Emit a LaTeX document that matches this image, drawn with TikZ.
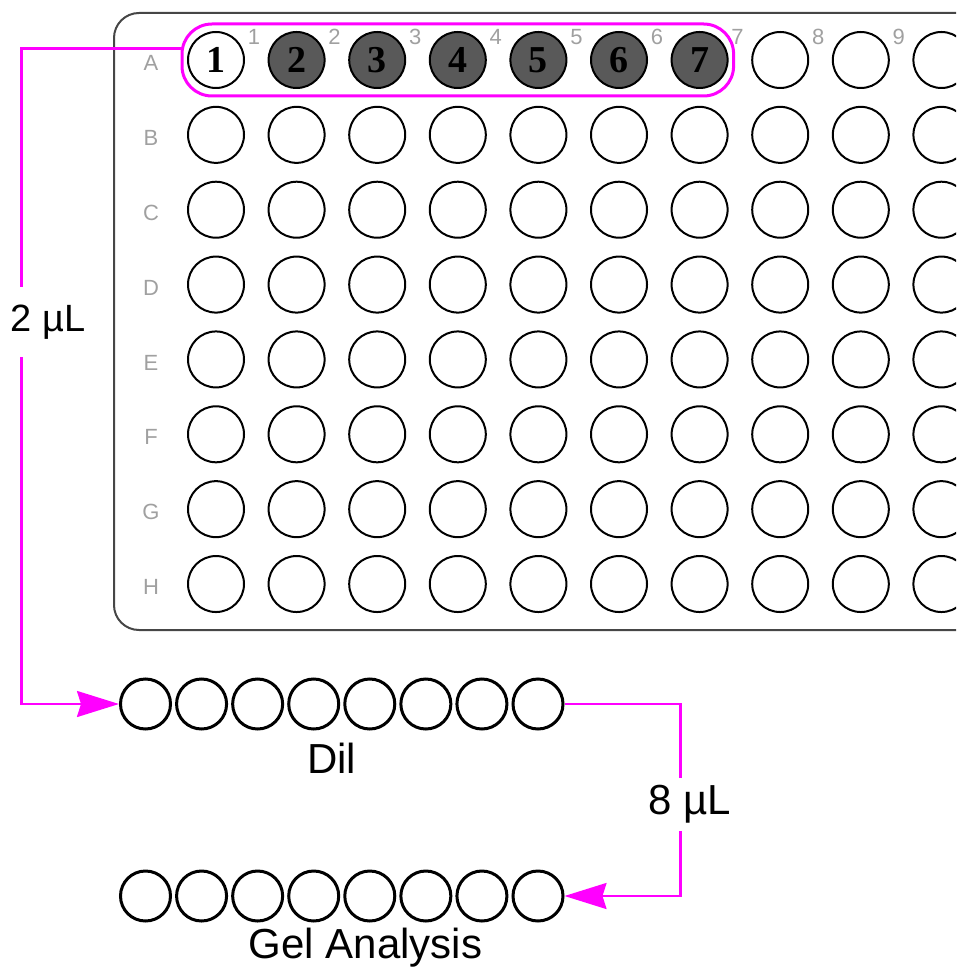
\documentclass[tikz,border=0pt]{standalone}
\usepackage{fontspec}
\setmainfont{Liberation Sans}
\newfontfamily\wellfont{Liberation Serif}
\usetikzlibrary{arrows.meta,fit}

\definecolor{pipette}{RGB}{255,0,255}
\definecolor{sample}{RGB}{89,89,89}
\definecolor{lblgrey}{RGB}{160,160,160}
\definecolor{plateedge}{RGB}{70,70,70}

\begin{document}
\begin{tikzpicture}[x=0.5pt, y=-0.5pt,
  well/.style ={circle, draw, line width=1pt, minimum size=28pt, inner sep=0pt},
  tube/.style ={circle, draw, line width=1.5pt, minimum size=25pt, inner sep=0pt},
  platelbl/.style ={text=lblgrey, font=\fontsize{11}{11}\selectfont},
  wellnum/.style ={font=\wellfont\bfseries\fontsize{19}{19}\selectfont},
  pickbox/.style ={draw=pipette, line width=1.5pt, rounded corners=15pt, inner xsep=2.5pt, inner ysep=3.5pt},
  xfer/.style ={draw=pipette, line width=1.1pt, -{Stealth[length=21pt, width=13pt, inset=2pt]}},
  vol/.style ={fill=white, inner xsep=1pt},
  caption/.style ={font=\fontsize{21}{21}\selectfont}]
 \useasboundingbox (0,0) rectangle (959,967);

 % plate
 \begin{scope}
  \clip (0,0) rectangle (956,967);
  \draw[plateedge, line width=1pt, rounded corners=12.5pt] (114,13) rectangle (1010,630);
  \foreach \c/\f in {1/white,2/sample,3/sample,4/sample,5/sample,6/sample,7/sample}
   \node[well, fill=\f, wellnum] (A\c) at ({216+80.6*(\c-1)},60) {\c};
  \foreach \c in {8,9,10}
   \node[well] (A\c) at ({216+80.6*(\c-1)},60) {};
  \foreach \r [count=\ri from 2] in {B,...,H}
   \foreach \c in {1,...,10}
    \node[well] (\r\c) at ({216+80.6*(\c-1)},{60+74.86*(\ri-1)}) {};
  \foreach \r [count=\ri] in {A,...,H}
   \node[platelbl] (lbl\r) at (151,{63+74.86*(\ri-1)}) {\r};
  \foreach \c in {1,...,9}
   \node[platelbl] (num\c) at ({254+80.6*(\c-1)},37) {\c};
 \end{scope}

 \node[pickbox, fit=(A1)(A7)] (pick) {};

 % strips
 \foreach \i in {1,...,8} {
  \node[tube] (dil\i) at ({145.5+56.07*(\i-1)},704) {};
  \node[tube] (gel\i) at ({145.5+56.07*(\i-1)},896) {};
 }
 \node[caption] (dilcap) at (331.5,758) {Dil};
 \node[caption] (gelcap) at (365.5,948) {Gel Analysis};

 \draw[xfer] ([yshift=5.75pt]pick.west) -- ++(-159,0) |- (dil1.west);
 \draw[xfer] (dil8.east) -- ++(116,0) |- (gel8.east);
 \node[vol, minimum height=35pt, font=\fontsize{19}{19}\selectfont] (vol2) at (48,322) {2 µL};
 \node[vol, minimum height=26.5pt, font=\fontsize{21}{21}\selectfont] (vol8) at (689.5,804) {8 µL};
\end{tikzpicture}
\end{document}
